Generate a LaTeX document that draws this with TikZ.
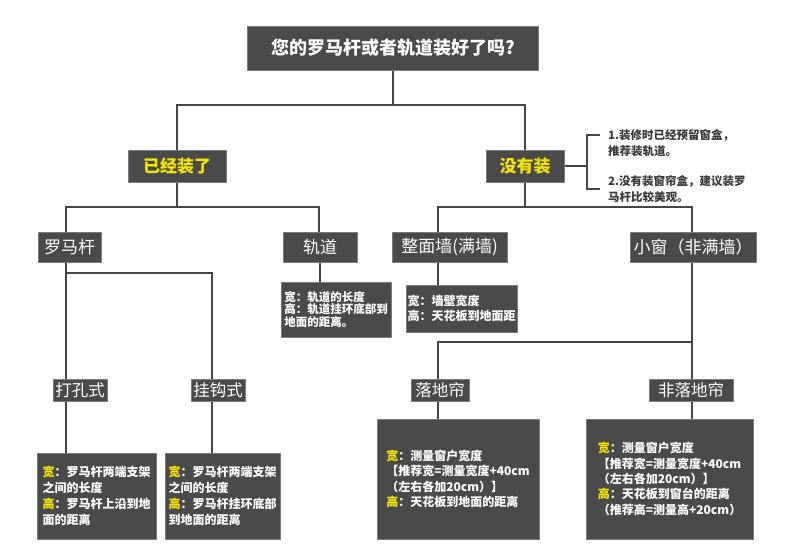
\documentclass[tikz,border=0pt]{standalone}
\usepackage{fontspec}
\setmainfont{Noto Sans CJK SC}
\usetikzlibrary{backgrounds}
\definecolor{boxfill}{HTML}{4A4A4A}
\definecolor{boxline}{HTML}{7C7C7C}
\definecolor{wire}{HTML}{454545}
\definecolor{hl}{HTML}{F5E600}
\definecolor{notec}{HTML}{3A3A3A}
\newcommand{\fs}[2]{\fontsize{#1pt}{#2pt}\selectfont}
\begin{document}
\begin{tikzpicture}[x=1pt,y=-1pt,
  box/.style={fill=boxfill,draw=boxline,line width=0.6pt,text=white,inner sep=0pt,align=center},
  head/.style={box,font=\fs{17}{19}},
  keyhead/.style={box,text=hl,font=\fs{17}{19}\bfseries},
  sub/.style={box,font=\fs{16.5}{18}},
  info/.style={box,align=left},
  notetext/.style={text=notec,inner sep=0pt,align=left,anchor=west,font=\fs{11.5}{16}\bfseries},
  wire/.style={draw=wire,line width=1.6pt}]
\path[use as bounding box] (0,0) rectangle (790,551);

% level 0
\node[box,minimum width=291pt,minimum height=44pt,font=\fs{18}{20}\bfseries] (top) at (393,48) {您的罗马杆或者轨道装好了吗?};
% level 1
\node[keyhead,minimum width=98pt,minimum height=32pt] (yjzl) at (177,166) {已经装了};
\node[keyhead,minimum width=78pt,minimum height=32pt] (myz) at (525,166) {没有装};
% notes
\node[notetext] (n1) at (608,143) {1.装修时已经预留窗盒，\\推荐装轨道。};
\node[notetext] (n2) at (608,189) {2.没有装窗帘盒，建议装罗\\马杆比较美观。};
% level 2
\node[head,minimum width=63pt,minimum height=30pt] (lmg) at (69.5,247) {罗马杆};
\node[head,minimum width=74pt,minimum height=30pt] (gd) at (320,247) {轨道};
\node[head,minimum width=115pt,minimum height=30pt] (zmq) at (449.5,247) {整面墙(满墙)};
\node[head,minimum width=126pt,minimum height=30pt] (xc) at (693,247) {小窗（非满墙）};
% level 2 info
\node[info,minimum width=110pt,minimum height=55pt,font=\fs{11.5}{12.5}\bfseries] (gdi) at (336,309.5) {宽：轨道的长度\\高：轨道挂环底部到\\地面的距离。};
\node[info,minimum width=111pt,minimum height=47pt,font=\fs{12}{15}\bfseries] (zmqi) at (461.5,308.5) {宽：墙壁宽度\\高：天花板到地面距};
% level 3
\node[sub,minimum width=54pt,minimum height=22pt] (dks) at (80,390) {打孔式};
\node[sub,minimum width=54pt,minimum height=22pt] (ggs) at (218,390) {挂钩式};
\node[sub,minimum width=58pt,minimum height=22pt] (ldls) at (440,390) {落地帘};
\node[sub,minimum width=84pt,minimum height=22pt] (fldls) at (691,390) {非落地帘};
% level 3 info
\node[info,minimum width=119pt,minimum height=86pt,font=\fs{12}{16}\bfseries] (dki) at (96.5,496) {\textcolor{hl}{宽}：罗马杆两端支架\\之间的长度\\\textcolor{hl}{高}：罗马杆上沿到地\\面的距离};
\node[info,minimum width=115pt,minimum height=86pt,font=\fs{12}{16}\bfseries] (ggi) at (222.5,496) {\textcolor{hl}{宽}：罗马杆两端支架\\之间的长度\\\textcolor{hl}{高}：罗马杆挂环底部\\到地面的距离};
\node[info,minimum width=162pt,minimum height=120pt,font=\fs{12}{15.3}\bfseries] (ldli) at (458,479) {\textcolor{hl}{宽}：测量窗户宽度\\【推荐宽=测量宽度+40cm\\（左右各加20cm）】\\\textcolor{hl}{高}：天花板到地面的距离};
\node[info,minimum width=167pt,minimum height=120pt,font=\fs{12}{15.3}\bfseries] (fldli) at (669.5,479) {\textcolor{hl}{宽}：测量窗户宽度\\【推荐宽=测量宽度+40cm\\（左右各加20cm）】\\\textcolor{hl}{高}：天花板到窗台的距离\\（推荐高=测量高+20cm）};

% junction coordinates
\coordinate (b1) at (393,105);
\coordinate (b2l) at (66,207);
\coordinate (b2r) at (319,207);
\coordinate (b3l) at (438,207);
\coordinate (b3r) at (692,207);
\coordinate (cl) at (66,273);
\coordinate (cr) at (212,273);
\coordinate (dl) at (438,342);
\coordinate (dr) at (692,342);
\coordinate (bm) at (587,166);
\coordinate (bt) at (587,135);
\coordinate (bb) at (587,189);
\coordinate (btt) at (600,135);
\coordinate (bbt) at (600,189);

\begin{scope}[on background layer]
\fill[white] (0,0) rectangle (790,551);
\draw[wire] (top.south) -- (b1);
\draw[wire] (yjzl.north) |- (b1) -| (myz.north);
% already installed branch
\draw[wire] (yjzl.south) -- (yjzl.south |- b2l);
\draw[wire] (lmg.north -| b2l) -- (b2l) -- (b2r) -- (gd.north -| b2r);
\draw[wire] (lmg.south -| cl) -- (dki.north -| cl);
\draw[wire] (cl) -- (cr) -- (ggi.north -| cr);
\draw[wire] (gd.south) -- (gd.south |- gdi.north);
% not installed branch
\draw[wire] (myz.south) -- (myz.south |- b3l);
\draw[wire] (zmq.north -| b3l) -- (b3l) -- (b3r) -- (xc.north -| b3r);
\draw[wire] (zmq.south -| b3l) -- (zmqi.north -| b3l);
\draw[wire] (xc.south -| dr) -- (fldli.north -| dr);
\draw[wire] (dr) -- (dl) -- (ldli.north -| dl);
% bracket
\draw[wire] (myz.east) -- (bm);
\draw[wire] (btt) -- (bt) -- (bb) -- (bbt);
\end{scope}
\end{tikzpicture}
\end{document}
